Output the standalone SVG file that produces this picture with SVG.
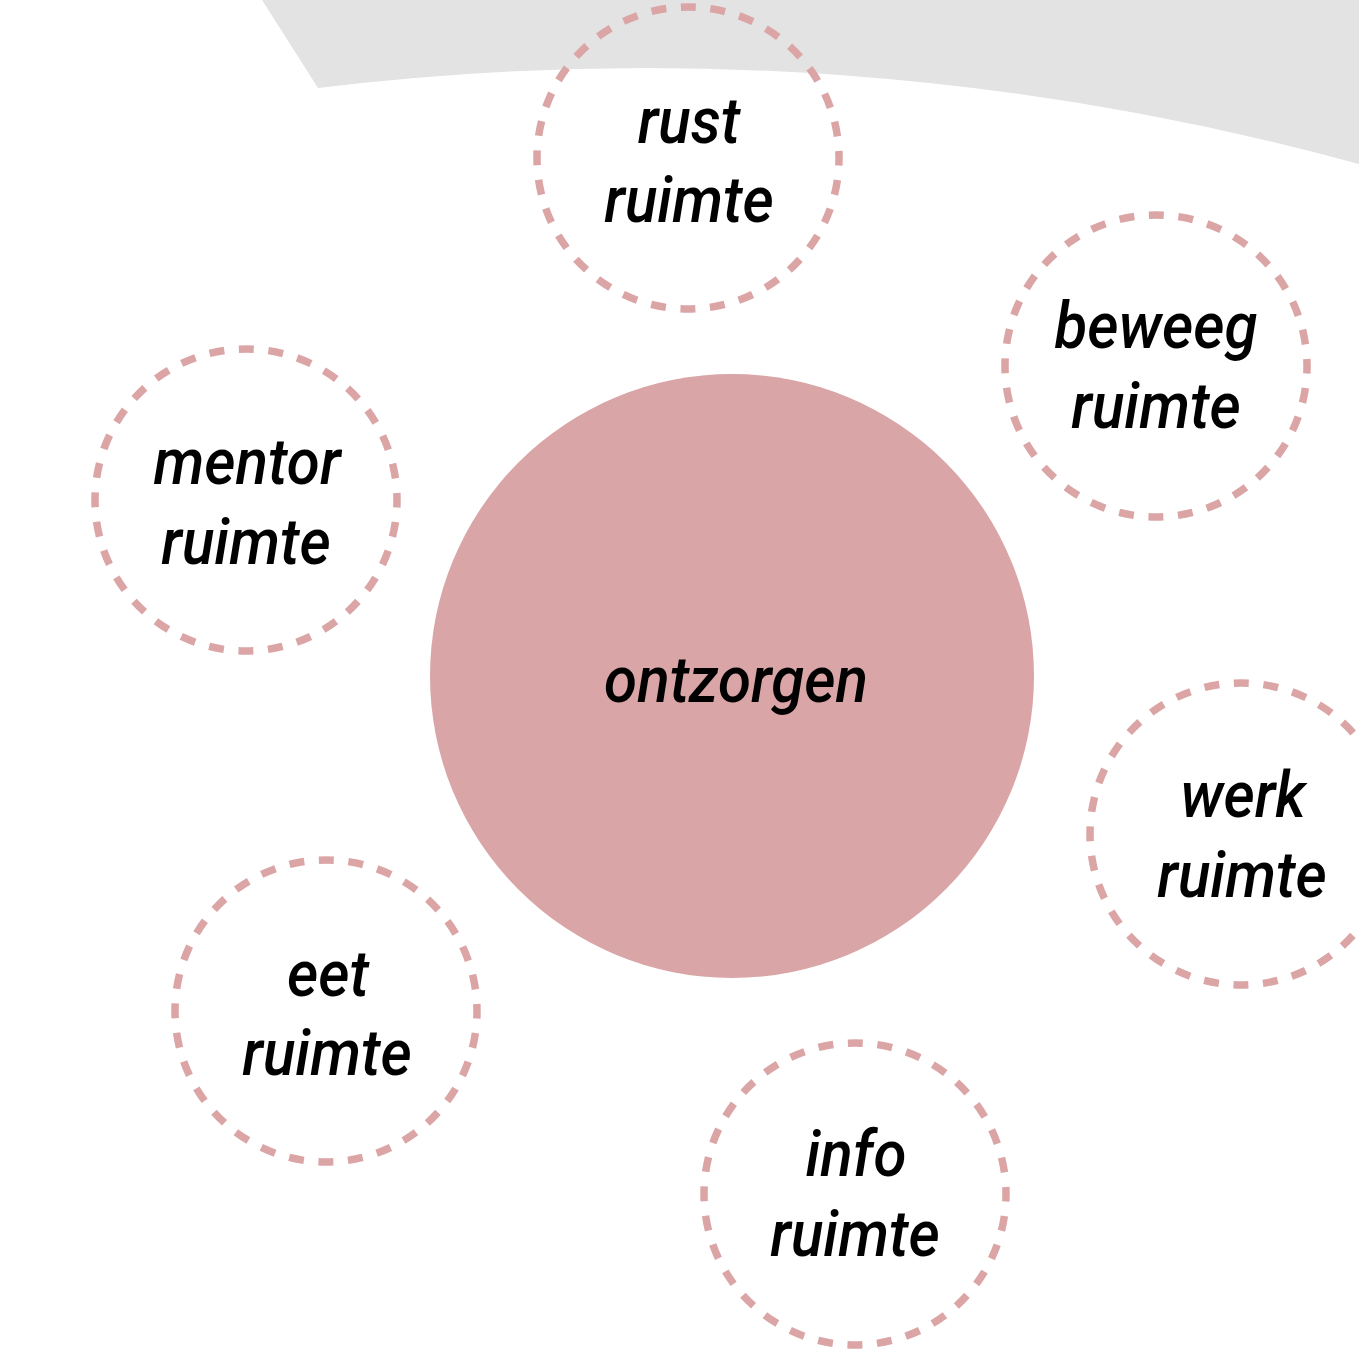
<svg xmlns="http://www.w3.org/2000/svg" width="1359" height="1349" viewBox="0 0 1359 1349">
<defs>
<style>
.bg{fill:#e3e3e3}
.hub{fill:#d9a5a6}
.ring{fill:none;stroke:#dba5a6;stroke-width:7.5;stroke-dasharray:15 14.65;stroke-dashoffset:7.5}
.lbl{font-family:Roboto,"Liberation Sans",sans-serif;font-style:italic;font-weight:500;font-size:64px;fill:#000;text-anchor:middle}
</style>
</defs>
<rect width="1359" height="1349" fill="#fff"/>
<path class="bg" d="M262,0 L1359,0 L1359,164 A2700,2700 0 0 0 318,88 Z"/>
<g id="connectors"></g>
<g id="ontzorgen">
<circle class="hub" cx="732" cy="676" r="302"/>
<text class="lbl" transform="translate(736,702) scale(0.94,1)">ontzorgen</text>
</g>
<g id="rust">
<circle class="ring" cx="688" cy="158" r="151"/>
<text class="lbl" transform="translate(689,143) scale(0.94,1)">rust</text>
<text class="lbl" transform="translate(689,222) scale(0.94,1)">ruimte</text>
</g>
<g id="beweeg">
<circle class="ring" cx="1156" cy="366" r="151"/>
<text class="lbl" transform="translate(1156,348) scale(0.94,1)">beweeg</text>
<text class="lbl" transform="translate(1156,428) scale(0.94,1)">ruimte</text>
</g>
<g id="mentor">
<circle class="ring" cx="246" cy="500" r="151"/>
<text class="lbl" transform="translate(247,484) scale(0.94,1)">mentor</text>
<text class="lbl" transform="translate(246,564) scale(0.94,1)">ruimte</text>
</g>
<g id="werk">
<circle class="ring" cx="1241" cy="834" r="151"/>
<text class="lbl" transform="translate(1243,817) scale(0.94,1)">werk</text>
<text class="lbl" transform="translate(1242,897) scale(0.94,1)">ruimte</text>
</g>
<g id="eet">
<circle class="ring" cx="326" cy="1011" r="151"/>
<text class="lbl" transform="translate(328,996) scale(0.94,1)">eet</text>
<text class="lbl" transform="translate(327,1075) scale(0.94,1)">ruimte</text>
</g>
<g id="info">
<circle class="ring" cx="855" cy="1194" r="151"/>
<text class="lbl" transform="translate(856,1176) scale(0.94,1)">info</text>
<text class="lbl" transform="translate(855,1256) scale(0.94,1)">ruimte</text>
</g>
</svg>
